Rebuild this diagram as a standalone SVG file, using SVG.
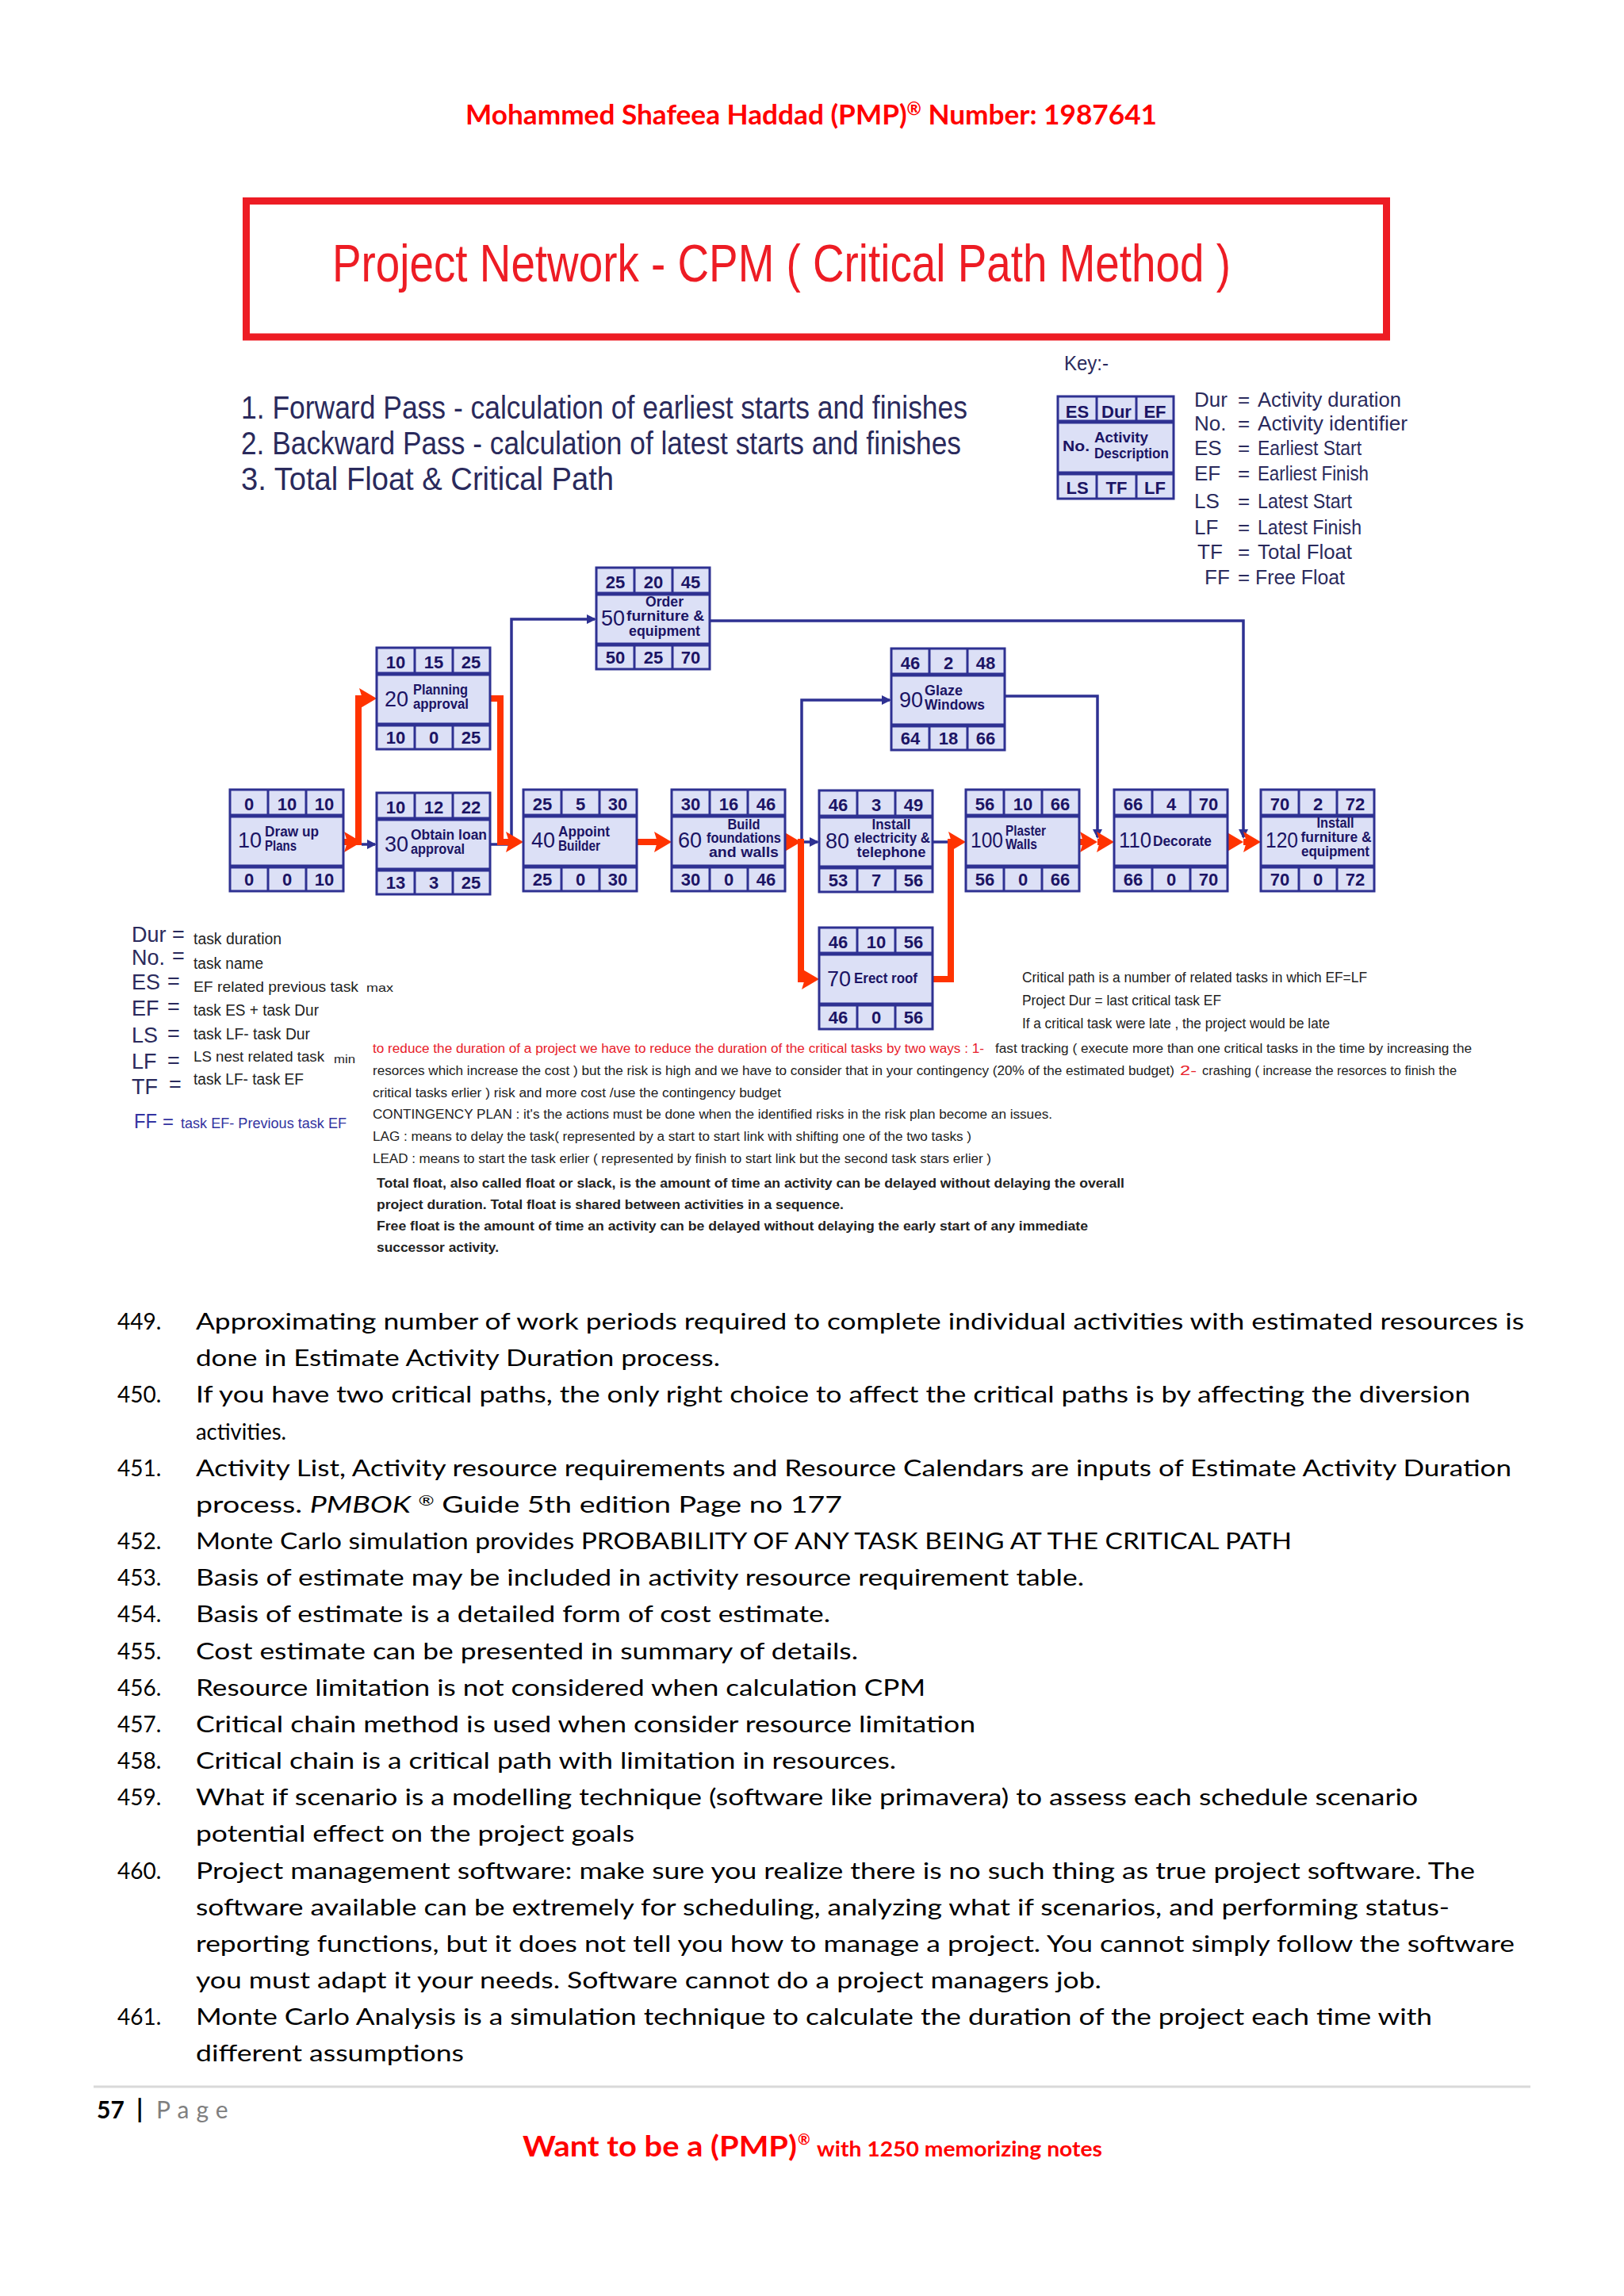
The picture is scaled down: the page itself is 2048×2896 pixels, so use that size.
<svg xmlns="http://www.w3.org/2000/svg" width="2048" height="2896" viewBox="0 0 2048 2896">
<defs>
<style>
.nb{fill:#DCE0F6;stroke:#2E3192;stroke-width:3}
.nd{fill:none;stroke:#2E3192;stroke-width:3}
.ns{fill:none;stroke:#2E3192;stroke-width:5}
.n{font-family:"Liberation Sans",Arial,sans-serif;font-weight:bold;font-size:22px;fill:#1B1464;text-anchor:middle}
.id{font-family:"Liberation Sans",Arial,sans-serif;font-size:27px;fill:#1B1464}
.d{font-family:"Liberation Sans",Arial,sans-serif;font-weight:bold;font-size:18px;fill:#1B1464}
.dc{font-family:"Liberation Sans",Arial,sans-serif;font-weight:bold;font-size:18px;fill:#1B1464;text-anchor:middle}
.red{fill:none;stroke:#FF3300;stroke-width:8}
.blue{fill:none;stroke:#2E3192;stroke-width:3.5}
.tw{font-family:"Liberation Sans",Arial,sans-serif;fill:#2A2A5C}
.ar{font-family:"Liberation Sans",Arial,sans-serif;fill:#222}
.body{font-family:Lato,"Open Sans",sans-serif;font-size:28px;fill:#000}
</style>
<marker id="ra" markerUnits="userSpaceOnUse" markerWidth="24" markerHeight="28" refX="10" refY="13" orient="auto">
<path d="M0,0 L22,13 L0,26 L4,13 z" fill="#FF3300"/>
</marker>
<marker id="ba" markerUnits="userSpaceOnUse" markerWidth="14" markerHeight="14" refX="10" refY="6" orient="auto">
<path d="M0,0 L12,6 L0,12 z" fill="#2E3192"/>
</marker>
</defs>
<rect width="2048" height="2896" fill="#FFFFFF"/>

<!-- header -->
<text x="587" y="157" font-family="Lato,'Open Sans',sans-serif" font-weight="bold" font-size="35" fill="#FF0000" textLength="872" lengthAdjust="spacingAndGlyphs">Mohammed Shafeea Haddad (PMP)<tspan font-size="22" dy="-12">®</tspan><tspan dy="12"> Number: 1987641</tspan></text>

<!-- title box -->
<g id="title">
<rect x="310.5" y="253.5" width="1438" height="171.5" fill="#FFFFFF" stroke="#ED1C24" stroke-width="9"/>
<text x="419" y="355" font-family="'Liberation Sans',Arial,sans-serif" font-size="66" fill="#ED1C24" textLength="1133" lengthAdjust="spacingAndGlyphs">Project Network - CPM ( Critical Path Method )</text>
</g>

<!-- steps -->
<g id="steps" class="tw" font-size="40">
<text x="304" y="528" textLength="916" lengthAdjust="spacingAndGlyphs">1. Forward Pass - calculation of earliest starts and finishes</text>
<text x="304" y="573" textLength="908" lengthAdjust="spacingAndGlyphs">2. Backward Pass - calculation of latest starts and finishes</text>
<text x="304" y="618" textLength="470" lengthAdjust="spacingAndGlyphs">3. Total Float &amp; Critical Path</text>
</g>

<!-- key -->
<g id="key">
<text x="1342" y="467" class="tw" font-size="25" textLength="56" lengthAdjust="spacingAndGlyphs">Key:-</text>
<g transform="translate(1334,500)">
<rect class="nb" width="146" height="129"/>
<path class="nd" d="M49,0V32M99,0V32M49,97V129M99,97V129"/>
<path class="ns" d="M0,32H146M0,97H146"/>
<text class="n" x="24.5" y="27" font-size="20">ES</text>
<text class="n" x="74" y="27" font-size="20">Dur</text>
<text class="n" x="122.5" y="27" font-size="20">EF</text>
<text class="d" x="6" y="69" font-size="20" textLength="34" lengthAdjust="spacingAndGlyphs">No.</text>
<text class="d" x="46" y="58" font-size="16" textLength="68" lengthAdjust="spacingAndGlyphs">Activity</text>
<text class="d" x="46" y="78" font-size="16" textLength="94" lengthAdjust="spacingAndGlyphs">Description</text>
<text class="n" x="24.5" y="123" font-size="20">LS</text>
<text class="n" x="74" y="123" font-size="20">TF</text>
<text class="n" x="122.5" y="123" font-size="20">LF</text>
</g>
<g class="tw" font-size="26">
<text x="1506" y="513">Dur</text><text x="1561" y="513">=</text><text x="1586" y="513" textLength="181" lengthAdjust="spacingAndGlyphs">Activity duration</text>
<text x="1506" y="543">No.</text><text x="1561" y="543">=</text><text x="1586" y="543" textLength="189" lengthAdjust="spacingAndGlyphs">Activity identifier</text>
<text x="1506" y="574">ES</text><text x="1561" y="574">=</text><text x="1586" y="574" textLength="131" lengthAdjust="spacingAndGlyphs">Earliest Start</text>
<text x="1506" y="606">EF</text><text x="1561" y="606">=</text><text x="1586" y="606" textLength="140" lengthAdjust="spacingAndGlyphs">Earliest Finish</text>
<text x="1506" y="641">LS</text><text x="1561" y="641">=</text><text x="1586" y="641" textLength="119" lengthAdjust="spacingAndGlyphs">Latest Start</text>
<text x="1506" y="674">LF</text><text x="1561" y="674">=</text><text x="1586" y="674" textLength="131" lengthAdjust="spacingAndGlyphs">Latest Finish</text>
<text x="1510" y="705">TF</text><text x="1561" y="705">=</text><text x="1586" y="705" textLength="119" lengthAdjust="spacingAndGlyphs">Total Float</text>
<text x="1519" y="737">FF</text><text x="1561" y="737">=</text><text x="1583" y="737" textLength="113" lengthAdjust="spacingAndGlyphs">Free Float</text>
</g>
</g>

<!-- connectors -->
<g id="connectors">
<path class="blue" d="M456,1065 H473" marker-end="url(#ba)"/>
<path class="blue" d="M618,1065 H645 V781 H750" marker-end="url(#ba)"/>
<path class="blue" d="M1010,1062 H1031" marker-end="url(#ba)"/>
<path class="blue" d="M1011,1062 V883 H1122" marker-end="url(#ba)"/>
<path class="blue" d="M1268,878 H1384 V1056" marker-end="url(#ba)"/>
<path class="blue" d="M895,783 H1568 V1056" marker-end="url(#ba)"/>
<path class="blue" d="M1176,1062 H1199" stroke-width="6"/>
<path class="red" d="M432,1062 H444" marker-end="url(#ra)"/>
<path class="red" d="M452,1066 V881 H463" marker-end="url(#ra)"/>
<path class="red" d="M618,881 H631 V1062 H648" marker-end="url(#ra)"/>
<path class="red" d="M804,1062 H835" marker-end="url(#ra)"/>
<path class="red" d="M990,1062 H998" marker-end="url(#ra)"/>
<path class="red" d="M1010,1058 V1235 H1021" marker-end="url(#ra)"/>
<path class="red" d="M1177,1235 H1199 V1062 H1206" marker-end="url(#ra)"/>
<path class="red" d="M1362,1062 H1372" marker-end="url(#ra)"/>
<path class="red" d="M1384,1062 H1393" marker-end="url(#ra)"/>
<path class="red" d="M1548,1062 H1556" marker-end="url(#ra)"/>
<path class="red" d="M1568,1062 H1578" marker-end="url(#ra)"/>
</g>

<!-- nodes -->
<g id="n10" transform="translate(290,996)">
<rect class="nb" width="143" height="128"/><path class="nd" d="M48,0V33M96,0V33M48,97V128M96,97V128"/><path class="ns" d="M0,33H143M0,97H143"/>
<text class="n" x="24" y="26">0</text><text class="n" x="72" y="26">10</text><text class="n" x="119" y="26">10</text>
<text class="id" x="10" y="73">10</text>
<text class="d" x="44" y="59" textLength="68" lengthAdjust="spacingAndGlyphs">Draw up</text><text class="d" x="44" y="77" textLength="40" lengthAdjust="spacingAndGlyphs">Plans</text>
<text class="n" x="24" y="121">0</text><text class="n" x="72" y="121">0</text><text class="n" x="119" y="121">10</text>
</g>
<g id="n20" transform="translate(475,817)">
<rect class="nb" width="143" height="128"/><path class="nd" d="M48,0V33M96,0V33M48,97V128M96,97V128"/><path class="ns" d="M0,33H143M0,97H143"/>
<text class="n" x="24" y="26">10</text><text class="n" x="72" y="26">15</text><text class="n" x="119" y="26">25</text>
<text class="id" x="10" y="74">20</text>
<text class="d" x="46" y="59" textLength="69" lengthAdjust="spacingAndGlyphs">Planning</text><text class="d" x="46" y="77" textLength="70" lengthAdjust="spacingAndGlyphs">approval</text>
<text class="n" x="24" y="121">10</text><text class="n" x="72" y="121">0</text><text class="n" x="119" y="121">25</text>
</g>
<g id="n30" transform="translate(475,1000)">
<rect class="nb" width="143" height="128"/><path class="nd" d="M48,0V33M96,0V33M48,97V128M96,97V128"/><path class="ns" d="M0,33H143M0,97H143"/>
<text class="n" x="24" y="26">10</text><text class="n" x="72" y="26">12</text><text class="n" x="119" y="26">22</text>
<text class="id" x="10" y="74">30</text>
<text class="d" x="43" y="59" textLength="96" lengthAdjust="spacingAndGlyphs">Obtain loan</text><text class="d" x="43" y="77" textLength="68" lengthAdjust="spacingAndGlyphs">approval</text>
<text class="n" x="24" y="121">13</text><text class="n" x="72" y="121">3</text><text class="n" x="119" y="121">25</text>
</g>
<g id="n40" transform="translate(660,996)">
<rect class="nb" width="143" height="128"/><path class="nd" d="M48,0V33M96,0V33M48,97V128M96,97V128"/><path class="ns" d="M0,33H143M0,97H143"/>
<text class="n" x="24" y="26">25</text><text class="n" x="72" y="26">5</text><text class="n" x="119" y="26">30</text>
<text class="id" x="10" y="73">40</text>
<text class="d" x="44" y="59" textLength="65" lengthAdjust="spacingAndGlyphs">Appoint</text><text class="d" x="44" y="77" textLength="53" lengthAdjust="spacingAndGlyphs">Builder</text>
<text class="n" x="24" y="121">25</text><text class="n" x="72" y="121">0</text><text class="n" x="119" y="121">30</text>
</g>
<g id="n50" transform="translate(752,716)">
<rect class="nb" width="143" height="128"/><path class="nd" d="M48,0V33M96,0V33M48,97V128M96,97V128"/><path class="ns" d="M0,33H143M0,97H143"/>
<text class="n" x="24" y="26">25</text><text class="n" x="72" y="26">20</text><text class="n" x="119" y="26">45</text>
<text class="id" x="6" y="73">50</text>
<text class="dc" x="86" y="49" textLength="48" lengthAdjust="spacingAndGlyphs">Order</text><text class="dc" x="87" y="67" textLength="98" lengthAdjust="spacingAndGlyphs">furniture &amp;</text><text class="dc" x="86" y="86" textLength="90" lengthAdjust="spacingAndGlyphs">equipment</text>
<text class="n" x="24" y="121">50</text><text class="n" x="72" y="121">25</text><text class="n" x="119" y="121">70</text>
</g>
<g id="n60" transform="translate(847,996)">
<rect class="nb" width="143" height="128"/><path class="nd" d="M48,0V33M96,0V33M48,97V128M96,97V128"/><path class="ns" d="M0,33H143M0,97H143"/>
<text class="n" x="24" y="26">30</text><text class="n" x="72" y="26">16</text><text class="n" x="119" y="26">46</text>
<text class="id" x="8" y="73">60</text>
<text class="dc" x="91" y="50" textLength="41" lengthAdjust="spacingAndGlyphs">Build</text><text class="dc" x="91" y="67" textLength="94" lengthAdjust="spacingAndGlyphs">foundations</text><text class="dc" x="91" y="85" textLength="88" lengthAdjust="spacingAndGlyphs">and walls</text>
<text class="n" x="24" y="121">30</text><text class="n" x="72" y="121">0</text><text class="n" x="119" y="121">46</text>
</g>
<g id="n70" transform="translate(1033,1170)">
<rect class="nb" width="143" height="128"/><path class="nd" d="M48,0V33M96,0V33M48,97V128M96,97V128"/><path class="ns" d="M0,33H143M0,97H143"/>
<text class="n" x="24" y="26">46</text><text class="n" x="72" y="26">10</text><text class="n" x="119" y="26">56</text>
<text class="id" x="10" y="74">70</text>
<text class="d" x="44" y="70" textLength="80" lengthAdjust="spacingAndGlyphs">Erect roof</text>
<text class="n" x="24" y="121">46</text><text class="n" x="72" y="121">0</text><text class="n" x="119" y="121">56</text>
</g>
<g id="n80" transform="translate(1033,997)">
<rect class="nb" width="143" height="128"/><path class="nd" d="M48,0V33M96,0V33M48,97V128M96,97V128"/><path class="ns" d="M0,33H143M0,97H143"/>
<text class="n" x="24" y="26">46</text><text class="n" x="72" y="26">3</text><text class="n" x="119" y="26">49</text>
<text class="id" x="8" y="73">80</text>
<text class="dc" x="91" y="49" textLength="49" lengthAdjust="spacingAndGlyphs">Install</text><text class="dc" x="92" y="66" textLength="96" lengthAdjust="spacingAndGlyphs">electricity &amp;</text><text class="dc" x="91" y="84" textLength="87" lengthAdjust="spacingAndGlyphs">telephone</text>
<text class="n" x="24" y="121">53</text><text class="n" x="72" y="121">7</text><text class="n" x="119" y="121">56</text>
</g>
<g id="n90" transform="translate(1124,818)">
<rect class="nb" width="143" height="128"/><path class="nd" d="M48,0V33M96,0V33M48,97V128M96,97V128"/><path class="ns" d="M0,33H143M0,97H143"/>
<text class="n" x="24" y="26">46</text><text class="n" x="72" y="26">2</text><text class="n" x="119" y="26">48</text>
<text class="id" x="10" y="74">90</text>
<text class="d" x="42" y="59" textLength="48" lengthAdjust="spacingAndGlyphs">Glaze</text><text class="d" x="42" y="77" textLength="76" lengthAdjust="spacingAndGlyphs">Windows</text>
<text class="n" x="24" y="121">64</text><text class="n" x="72" y="121">18</text><text class="n" x="119" y="121">66</text>
</g>
<g id="n100" transform="translate(1218,996)">
<rect class="nb" width="143" height="128"/><path class="nd" d="M48,0V33M96,0V33M48,97V128M96,97V128"/><path class="ns" d="M0,33H143M0,97H143"/>
<text class="n" x="24" y="26">56</text><text class="n" x="72" y="26">10</text><text class="n" x="119" y="26">66</text>
<text class="id" x="6" y="73" font-size="25" textLength="41" lengthAdjust="spacingAndGlyphs">100</text>
<text class="d" x="50" y="58" textLength="51" lengthAdjust="spacingAndGlyphs">Plaster</text><text class="d" x="50" y="75" textLength="40" lengthAdjust="spacingAndGlyphs">Walls</text>
<text class="n" x="24" y="121">56</text><text class="n" x="72" y="121">0</text><text class="n" x="119" y="121">66</text>
</g>
<g id="n110" transform="translate(1405,996)">
<rect class="nb" width="143" height="128"/><path class="nd" d="M48,0V33M96,0V33M48,97V128M96,97V128"/><path class="ns" d="M0,33H143M0,97H143"/>
<text class="n" x="24" y="26">66</text><text class="n" x="72" y="26">4</text><text class="n" x="119" y="26">70</text>
<text class="id" x="6" y="73" font-size="25" textLength="41" lengthAdjust="spacingAndGlyphs">110</text>
<text class="d" x="49" y="71" textLength="74" lengthAdjust="spacingAndGlyphs">Decorate</text>
<text class="n" x="24" y="121">66</text><text class="n" x="72" y="121">0</text><text class="n" x="119" y="121">70</text>
</g>
<g id="n120" transform="translate(1590,996)">
<rect class="nb" width="143" height="128"/><path class="nd" d="M48,0V33M96,0V33M48,97V128M96,97V128"/><path class="ns" d="M0,33H143M0,97H143"/>
<text class="n" x="24" y="26">70</text><text class="n" x="72" y="26">2</text><text class="n" x="119" y="26">72</text>
<text class="id" x="6" y="73" font-size="25" textLength="41" lengthAdjust="spacingAndGlyphs">120</text>
<text class="dc" x="94" y="48" textLength="47" lengthAdjust="spacingAndGlyphs">Install</text><text class="dc" x="95" y="66" textLength="89" lengthAdjust="spacingAndGlyphs">furniture &amp;</text><text class="dc" x="94" y="84" textLength="86" lengthAdjust="spacingAndGlyphs">equipment</text>
<text class="n" x="24" y="121">70</text><text class="n" x="72" y="121">0</text><text class="n" x="119" y="121">72</text>
</g>

<!-- left legend -->
<g id="legend">
<g class="tw" font-size="27">
<text x="166" y="1188">Dur</text><text x="217" y="1188">=</text>
<text x="166" y="1217">No.</text><text x="217" y="1215">=</text>
<text x="166" y="1248">ES</text><text x="211" y="1247">=</text>
<text x="166" y="1281">EF</text><text x="211" y="1279">=</text>
<text x="166" y="1315">LS</text><text x="211" y="1313">=</text>
<text x="166" y="1348">LF</text><text x="211" y="1347">=</text>
<text x="166" y="1380">TF</text><text x="213" y="1377">=</text>
</g>
<g class="ar" font-size="20">
<text x="244" y="1191" textLength="111" lengthAdjust="spacingAndGlyphs">task duration</text>
<text x="244" y="1222" textLength="88" lengthAdjust="spacingAndGlyphs">task name</text>
<text x="244" y="1251" font-size="19" textLength="208" lengthAdjust="spacingAndGlyphs">EF related previous task</text>
<text x="462" y="1251" font-size="15" textLength="34" lengthAdjust="spacingAndGlyphs">max</text>
<text x="244" y="1281" textLength="158" lengthAdjust="spacingAndGlyphs">task ES + task Dur</text>
<text x="244" y="1311" textLength="147" lengthAdjust="spacingAndGlyphs">task LF- task Dur</text>
<text x="244" y="1339" font-size="18" textLength="165" lengthAdjust="spacingAndGlyphs">LS nest related task</text>
<text x="421" y="1341" font-size="15" textLength="27" lengthAdjust="spacingAndGlyphs">min</text>
<text x="244" y="1368" textLength="139" lengthAdjust="spacingAndGlyphs">task LF- task EF</text>
</g>
<text x="169" y="1423" font-family="'Liberation Sans',Arial,sans-serif" font-size="26" fill="#3333A0" textLength="29" lengthAdjust="spacingAndGlyphs">FF</text>
<text x="205" y="1423" font-family="'Liberation Sans',Arial,sans-serif" font-size="24" fill="#3333A0">=</text>
<text x="228" y="1423" font-family="'Liberation Sans',Arial,sans-serif" font-size="19" fill="#3333A0" textLength="209" lengthAdjust="spacingAndGlyphs">task EF- Previous task EF</text>
</g>

<!-- critical path notes -->
<g id="cpnotes" class="ar" font-size="19" fill="#333">
<text x="1289" y="1239" textLength="435" lengthAdjust="spacingAndGlyphs">Critical path is a number of related tasks in which EF=LF</text>
<text x="1289" y="1268" textLength="251" lengthAdjust="spacingAndGlyphs">Project Dur = last critical task EF</text>
<text x="1289" y="1297" textLength="388" lengthAdjust="spacingAndGlyphs">If a critical task were late , the project would be late</text>
</g>

<!-- paragraph -->
<g id="para" class="ar" font-size="16">
<text x="470" y="1328" fill="#E8202A" textLength="771" lengthAdjust="spacingAndGlyphs">to reduce the duration of a project we have to reduce the duration of the critical tasks by two ways : 1-</text>
<text x="1255" y="1328" textLength="601" lengthAdjust="spacingAndGlyphs">fast tracking ( execute more than one critical tasks in the time by increasing the</text>
<text x="470" y="1356" textLength="1011" lengthAdjust="spacingAndGlyphs">resorces which increase the cost ) but the risk is high and we have to consider that in your contingency (20% of the estimated budget)</text>
<text x="1488" y="1356" fill="#E8202A" textLength="21" lengthAdjust="spacingAndGlyphs">2-</text>
<text x="1516" y="1356" textLength="321" lengthAdjust="spacingAndGlyphs">crashing ( increase the resorces to finish the</text>
<text x="470" y="1384" textLength="515" lengthAdjust="spacingAndGlyphs">critical tasks erlier ) risk and more cost /use the contingency budget</text>
<text x="470" y="1411" textLength="857" lengthAdjust="spacingAndGlyphs">CONTINGENCY PLAN : it's the actions must be done when the identified risks in the risk plan become an issues.</text>
<text x="470" y="1439" textLength="755" lengthAdjust="spacingAndGlyphs">LAG : means to delay the task( represented by a start to start link with shifting one of the two tasks )</text>
<text x="470" y="1467" textLength="780" lengthAdjust="spacingAndGlyphs">LEAD : means to start the task erlier ( represented by finish to start link but the second task stars erlier )</text>
</g>
<g id="floatdef" class="ar" font-size="17" font-weight="bold" fill="#000">
<text x="475" y="1498" textLength="943" lengthAdjust="spacingAndGlyphs">Total float, also called float or slack, is the amount of time an activity can be delayed without delaying the overall</text>
<text x="475" y="1525" textLength="589" lengthAdjust="spacingAndGlyphs">project duration. Total float is shared between activities in a sequence.</text>
<text x="475" y="1552" textLength="897" lengthAdjust="spacingAndGlyphs">Free float is the amount of time an activity can be delayed without delaying the early start of any immediate</text>
<text x="475" y="1579" textLength="154" lengthAdjust="spacingAndGlyphs">successor activity.</text>
</g>

<!-- numbered notes -->
<g id="notes" class="body">
<text x="148" y="1677">449.</text>
<text x="247" y="1677" textLength="1675" lengthAdjust="spacingAndGlyphs">Approximating number of work periods required to complete individual activities with estimated resources is</text>
<text x="247" y="1723" textLength="661" lengthAdjust="spacingAndGlyphs">done in Estimate Activity Duration process.</text>
<text x="148" y="1769">450.</text>
<text x="247" y="1769" textLength="1607" lengthAdjust="spacingAndGlyphs">If you have two critical paths, the only right choice to affect the critical paths is by affecting the diversion</text>
<text x="247" y="1816" textLength="114" lengthAdjust="spacingAndGlyphs">activities.</text>
<text x="148" y="1862">451.</text>
<text x="247" y="1862" textLength="1659" lengthAdjust="spacingAndGlyphs">Activity List, Activity resource requirements and Resource Calendars are inputs of Estimate Activity Duration</text>
<text x="247" y="1908" textLength="815" lengthAdjust="spacingAndGlyphs">process. <tspan font-style="italic">PMBOK</tspan> <tspan font-size="18" dy="-9">®</tspan><tspan dy="9"> Guide 5th edition  Page no 177</tspan></text>
<text x="148" y="1954">452.</text>
<text x="247" y="1954" textLength="1382" lengthAdjust="spacingAndGlyphs">Monte Carlo simulation provides PROBABILITY OF ANY TASK BEING AT THE CRITICAL PATH</text>
<text x="148" y="2000">453.</text>
<text x="247" y="2000" textLength="1120" lengthAdjust="spacingAndGlyphs">Basis of estimate may be included in activity resource requirement table.</text>
<text x="148" y="2046">454.</text>
<text x="247" y="2046" textLength="800" lengthAdjust="spacingAndGlyphs">Basis of estimate is a detailed form of cost estimate.</text>
<text x="148" y="2093">455.</text>
<text x="247" y="2093" textLength="835" lengthAdjust="spacingAndGlyphs">Cost estimate can be presented in summary of details.</text>
<text x="148" y="2139">456.</text>
<text x="247" y="2139" textLength="920" lengthAdjust="spacingAndGlyphs">Resource limitation is not considered when calculation CPM</text>
<text x="148" y="2185">457.</text>
<text x="247" y="2185" textLength="983" lengthAdjust="spacingAndGlyphs">Critical chain method  is used when consider resource limitation</text>
<text x="148" y="2231">458.</text>
<text x="247" y="2231" textLength="883" lengthAdjust="spacingAndGlyphs">Critical chain is a critical path with limitation in resources.</text>
<text x="148" y="2277">459.</text>
<text x="247" y="2277" textLength="1541" lengthAdjust="spacingAndGlyphs">What if scenario is a modelling technique (software like primavera) to assess each schedule scenario</text>
<text x="247" y="2323" textLength="553" lengthAdjust="spacingAndGlyphs">potential effect on the project goals</text>
<text x="148" y="2370">460.</text>
<text x="247" y="2370" textLength="1613" lengthAdjust="spacingAndGlyphs">Project management software: make sure you realize there is no such thing as true project software. The</text>
<text x="247" y="2416" textLength="1581" lengthAdjust="spacingAndGlyphs">software available can be extremely for scheduling, analyzing what if scenarios, and performing status-</text>
<text x="247" y="2462" textLength="1663" lengthAdjust="spacingAndGlyphs">reporting functions, but it does not tell you how to manage a project. You cannot simply follow the software</text>
<text x="247" y="2508" textLength="1142" lengthAdjust="spacingAndGlyphs">you must adapt it your needs. Software cannot do a project managers job.</text>
<text x="148" y="2554">461.</text>
<text x="247" y="2554" textLength="1559" lengthAdjust="spacingAndGlyphs">Monte Carlo Analysis is a simulation technique to calculate the duration of the project each time with</text>
<text x="247" y="2600" textLength="338" lengthAdjust="spacingAndGlyphs">different assumptions</text>
</g>

<!-- footer -->
<g id="footer">
<line x1="118" y1="2632" x2="1930" y2="2632" stroke="#D9D9D9" stroke-width="3"/>
<text x="122" y="2672" font-family="Lato,'Open Sans',sans-serif" font-weight="bold" font-size="30" fill="#000">57</text>
<text x="172" y="2672" font-family="Lato,'Open Sans',sans-serif" font-weight="bold" font-size="32" fill="#000">|</text>
<text x="197" y="2672" font-family="Lato,'Open Sans',sans-serif" font-size="30" fill="#7F7F7F" letter-spacing="9">Page</text>
<text x="659" y="2720" font-family="Lato,'Open Sans',sans-serif" font-weight="bold" font-size="36" fill="#FF0000" textLength="346" lengthAdjust="spacingAndGlyphs">Want to be a (PMP)</text>
<text x="1006" y="2705" font-family="Lato,'Open Sans',sans-serif" font-weight="bold" font-size="19" fill="#FF0000">®</text>
<text x="1030" y="2720" font-family="Lato,'Open Sans',sans-serif" font-weight="bold" font-size="26" fill="#FF0000" textLength="360" lengthAdjust="spacingAndGlyphs">with 1250 memorizing notes</text>
</g>
</svg>
